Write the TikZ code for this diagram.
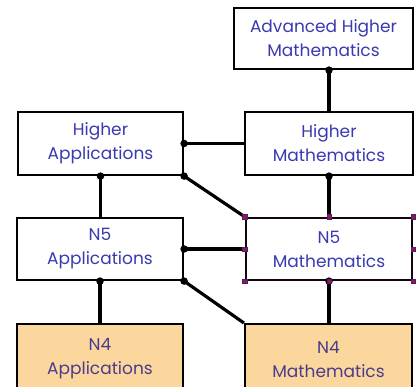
\documentclass[tikz,border=0pt]{standalone}
\usepackage{fontspec}
\setmainfont{Poppins}
\definecolor{txtblue}{HTML}{3A3AB0}
\definecolor{txtpurple}{HTML}{4A3C8C}
\definecolor{nfour}{HTML}{FBD79E}
\definecolor{handle}{HTML}{7A1F6A}
\tikzset{
  box/.style={draw=black, line width=2.2pt, fill=white, inner sep=0pt, text=txtblue, align=center, font=\fontsize{17}{24}\selectfont},
  nbox/.style={box, fill=nfour, text=txtpurple},
  link/.style={line width=3.2pt, draw=black},
  dot/.style={circle, fill=black, inner sep=0pt, minimum size=7.5pt},
  hnd/.style={fill=handle, draw=handle!80!black, minimum size=4.5pt, inner sep=0pt},
}
\begin{document}
\begin{tikzpicture}[x=1pt,y=-1pt]
\useasboundingbox (0,0) rectangle (418,387);
% boxes (corner coordinates in pixels)
\node[box, minimum width=179pt, minimum height=61pt] (ah) at (323.5,38.5) {Advanced Higher\\Mathematics};
\node[box, minimum width=165pt, minimum height=63pt] (ha) at (100.5,143.5) {Higher\\Applications};
\node[box, minimum width=168pt, minimum height=63pt] (hm) at (329,143.5) {Higher\\Mathematics};
\node[box, minimum width=166pt, minimum height=62pt] (na) at (100,249) {N5\\Applications};
\node[box, minimum width=166pt, minimum height=62pt, draw=black!85!handle] (nm) at (329,249) {N5\\Mathematics};
\node[nbox, minimum width=166pt, minimum height=70pt, anchor=north] (fa) at (100,323) {N4\\Applications};
\node[nbox, minimum width=167pt, minimum height=70pt, anchor=north] (fm) at (328.5,323) {N4\\Mathematics};
% connectors
\draw[link] (ah.south -| hm.north) -- (hm.north);
\draw[link] (ha.east) -- (ha.east -| hm.west);
\draw[link] (ha.south) -- (ha.south |- na.north);
\draw[link] (ha.south east) -- (nm.north west);
\draw[link] (hm.south) -- (hm.south |- nm.north);
\draw[link] (na.east) -- (na.east -| nm.west);
\draw[link] (na.south) -- (na.south |- fa.north);
\draw[link] (na.south east) -- (fm.north west);
\draw[link] (nm.south) -- (nm.south |- fm.north);
% junction dots
\node[dot] (d1) at (ah.south -| hm.north) {};
\node[dot] (d2) at (ha.east) {};
\node[dot] (d3) at (ha.south) {};
\node[dot] (d4) at (ha.south east) {};
\node[dot] (d5) at (hm.south) {};
\node[dot] (d6) at (na.east) {};
\node[dot] (d7) at (na.south) {};
\node[dot] (d8) at (na.south east) {};
\node[dot] (d9) at (nm.south) {};
% selection handles on N5 Mathematics
\foreach \a in {north west,north,north east,east,south east,south,south west,west}
  \node[hnd] at (nm.\a) {};
\end{tikzpicture}
\end{document}
